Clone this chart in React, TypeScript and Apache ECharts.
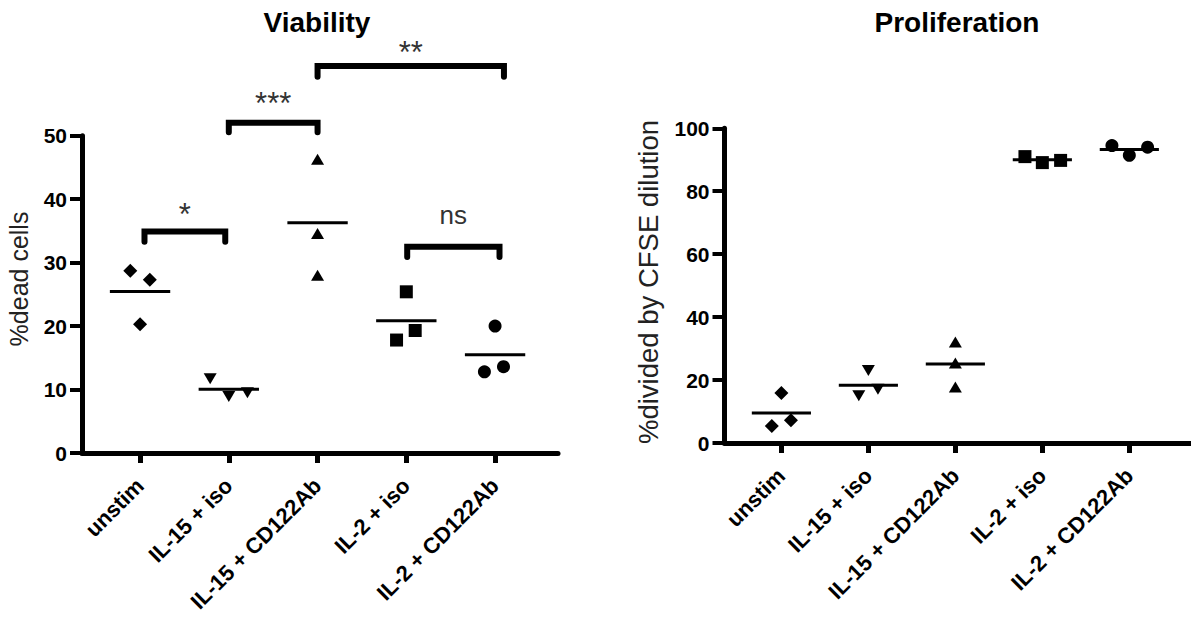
import React, { useEffect, useRef } from 'react';
import * as echarts from 'echarts';

const FONT = '"Liberation Sans", Arial, Helvetica, sans-serif';

const categories = ['unstim', 'IL-15 + iso', 'IL-15 + CD122Ab', 'IL-2 + iso', 'IL-2 + CD122Ab'];
const categoryPositions = [1, 2, 3, 4, 5];
const groupSymbols = ['diamond', 'triangle', 'triangle', 'rect', 'circle'];
const groupSymbolRotate = [0, 180, 0, 0, 0];
const groupSymbolSize: (number | number[])[] = [14, [13, 11], [13, 11], 13, 13];

// Viability (%dead cells)
const viabilityValues = [
  [28.7, 27.3, 20.3],
  [11.7, 8.9, 9.5],
  [46.3, 34.6, 28.0],
  [25.4, 17.8, 19.3],
  [20.0, 12.8, 13.6],
];
const viabilityJitter = [
  [-0.11, 0.11, 0],
  [-0.21, 0, 0.21],
  [0, 0, 0],
  [0, -0.11, 0.1],
  [0, -0.12, 0.095],
];
const viabilityTicks = [0, 10, 20, 30, 40, 50];

// Proliferation (%divided by CFSE dilution)
const proliferationValues = [
  [15.9, 5.4, 7.25],
  [23.0, 15.0, 17.1],
  [32.1, 25.4, 17.8],
  [91.0, 89.1, 89.8],
  [94.5, 91.4, 94.0],
];
const proliferationJitter = [
  [0, -0.11, 0.11],
  [0, -0.11, 0.11],
  [0, 0, 0],
  [-0.2, 0, 0.21],
  [-0.2, 0, 0.21],
];
const proliferationTicks = [0, 20, 40, 60, 80, 100];

// Significance brackets on the Viability panel
const bracketStart = [1.05, 2.0, 3.0, 4.01];
const bracketEnd = [1.96, 3.0, 5.1, 5.05];
const bracketTop = [34.9, 52.05, 61.0, 32.5];
const bracketDrop = [1.6, 1.5, 1.7, 1.6];
const bracketLabels = ['*', '***', '**', 'ns'];
const bracketLabelY = [37.55, 55.1, 63.1, 37.5];

const mean = (a: number[]) => a.reduce((s, v) => s + v, 0) / a.length;

export default function App() {
  const ref = useRef<HTMLDivElement>(null);

  useEffect(() => {
    const chart = echarts.init(ref.current!, null, { renderer: 'svg' });

    const makeX = (gridIndex: number) => ({
      type: 'value',
      gridIndex,
      min: 0.346,
      max: 5.709,
      axisLine: { show: true, onZero: false, lineStyle: { color: '#000', width: 5 } },
      axisTick: {
        show: true,
        customValues: categoryPositions,
        length: 10,
        lineStyle: { color: '#000', width: 5 },
      },
      axisLabel: {
        show: true,
        customValues: categoryPositions,
        rotate: 45,
        margin: 29,
        color: '#000',
        fontWeight: 'bold',
        fontSize: 22,
        fontFamily: FONT,
        formatter: (v: number) => categories[Math.round(v) - 1] ?? '',
      },
      splitLine: { show: false },
    });

    const makeY = (gridIndex: number, ticks: number[]) => ({
      type: 'value',
      gridIndex,
      min: ticks[0],
      max: ticks[ticks.length - 1],
      interval: ticks[1] - ticks[0],
      axisLine: { show: true, onZero: false, lineStyle: { color: '#000', width: 5 } },
      axisTick: { show: true, length: 12, lineStyle: { color: '#000', width: 4 } },
      axisLabel: {
        show: true,
        margin: 15,
        color: '#000',
        fontWeight: 'bold',
        fontSize: 21,
        fontFamily: FONT,
      },
      splitLine: { show: false },
    });

    const scatterSeries = (gi: number, values: number[][], jitter: number[][]) =>
      values.map((vals, g) => ({
        type: 'scatter',
        name: categories[g],
        xAxisIndex: gi,
        yAxisIndex: gi,
        symbol: groupSymbols[g],
        symbolRotate: groupSymbolRotate[g],
        symbolSize: groupSymbolSize[g],
        itemStyle: { color: '#000', opacity: 1 },
        z: 3,
        data: vals.map((v, k) => [categoryPositions[g] + jitter[g][k], v]),
      }));

    const meanSeries = (gi: number, values: number[][]) => ({
      type: 'custom',
      xAxisIndex: gi,
      yAxisIndex: gi,
      z: 4,
      data: values.map((vals, g) => [categoryPositions[g], mean(vals)]),
      renderItem: (_p: any, api: any) => {
        const x = api.value(0);
        const y = api.value(1);
        const a = api.coord([x - 0.34, y]);
        const b = api.coord([x + 0.34, y]);
        return {
          type: 'line',
          shape: { x1: a[0], y1: a[1], x2: b[0], y2: b[1] },
          style: { stroke: '#000', lineWidth: 3 },
        };
      },
    });

    const bracketSeries = {
      type: 'custom',
      xAxisIndex: 0,
      yAxisIndex: 0,
      clip: false,
      z: 5,
      data: bracketLabels.map((_, i) => [bracketStart[i], bracketEnd[i], bracketTop[i], bracketDrop[i], bracketLabelY[i]]),
      renderItem: (params: any, api: any) => {
        const i = params.dataIndex;
        const x1 = api.value(0);
        const x2 = api.value(1);
        const top = api.value(2);
        const drop = api.value(3);
        const ly = api.value(4);
        const p1 = api.coord([x1, top - drop]);
        const p2 = api.coord([x1, top]);
        const p3 = api.coord([x2, top]);
        const p4 = api.coord([x2, top - drop]);
        const lp = api.coord([(x1 + x2) / 2, ly]);
        const isStar = bracketLabels[i] !== 'ns';
        return {
          type: 'group',
          children: [
            {
              type: 'polyline',
              shape: { points: [p1, p2, p3, p4] },
              style: { stroke: '#000', lineWidth: 6, fill: null, lineCap: 'round', lineJoin: 'miter' },
            },
            {
              type: 'text',
              x: lp[0],
              y: lp[1],
              style: {
                text: bracketLabels[i],
                textAlign: 'center',
                textVerticalAlign: 'middle',
                font: `${isStar ? 31 : 26}px ${FONT}`,
                fill: '#333',
              },
            },
          ],
        };
      },
    };

    const option = {
      animation: false,
      backgroundColor: '#fff',
      grid: [
        { left: 82, top: 135.7, width: 476, height: 317.3, containLabel: false },
        { left: 724.5, top: 128.3, width: 476, height: 314.7, containLabel: false },
      ],
      xAxis: [makeX(0), makeX(1)],
      yAxis: [makeY(0, viabilityTicks), makeY(1, proliferationTicks)],
      graphic: [
        {
          type: 'text',
          x: 317,
          y: 22,
          style: {
            text: 'Viability',
            textAlign: 'center',
            textVerticalAlign: 'middle',
            font: `bold 28px ${FONT}`,
            fill: '#000',
          },
        },
        {
          type: 'text',
          x: 957,
          y: 22,
          style: {
            text: 'Proliferation',
            textAlign: 'center',
            textVerticalAlign: 'middle',
            font: `bold 28px ${FONT}`,
            fill: '#000',
          },
        },
        {
          type: 'text',
          x: 19,
          y: 279,
          rotation: Math.PI / 2,
          style: {
            text: '%dead cells',
            textAlign: 'center',
            textVerticalAlign: 'middle',
            font: `25px ${FONT}`,
            fill: '#222',
          },
        },
        {
          type: 'text',
          x: 648,
          y: 282,
          rotation: Math.PI / 2,
          style: {
            text: '%divided by CFSE dilution',
            textAlign: 'center',
            textVerticalAlign: 'middle',
            font: `27.5px ${FONT}`,
            fill: '#222',
          },
        },
      ],
      series: [
        ...scatterSeries(0, viabilityValues, viabilityJitter),
        meanSeries(0, viabilityValues),
        bracketSeries,
        ...scatterSeries(1, proliferationValues, proliferationJitter),
        meanSeries(1, proliferationValues),
      ],
    };

    chart.setOption(option as any);
    return () => chart.dispose();
  }, []);

  return (
    <div
      ref={ref}
      style={{ position: 'fixed', left: 0, top: 0, width: 1191, height: 617, background: '#fff' }}
    />
  );
}
